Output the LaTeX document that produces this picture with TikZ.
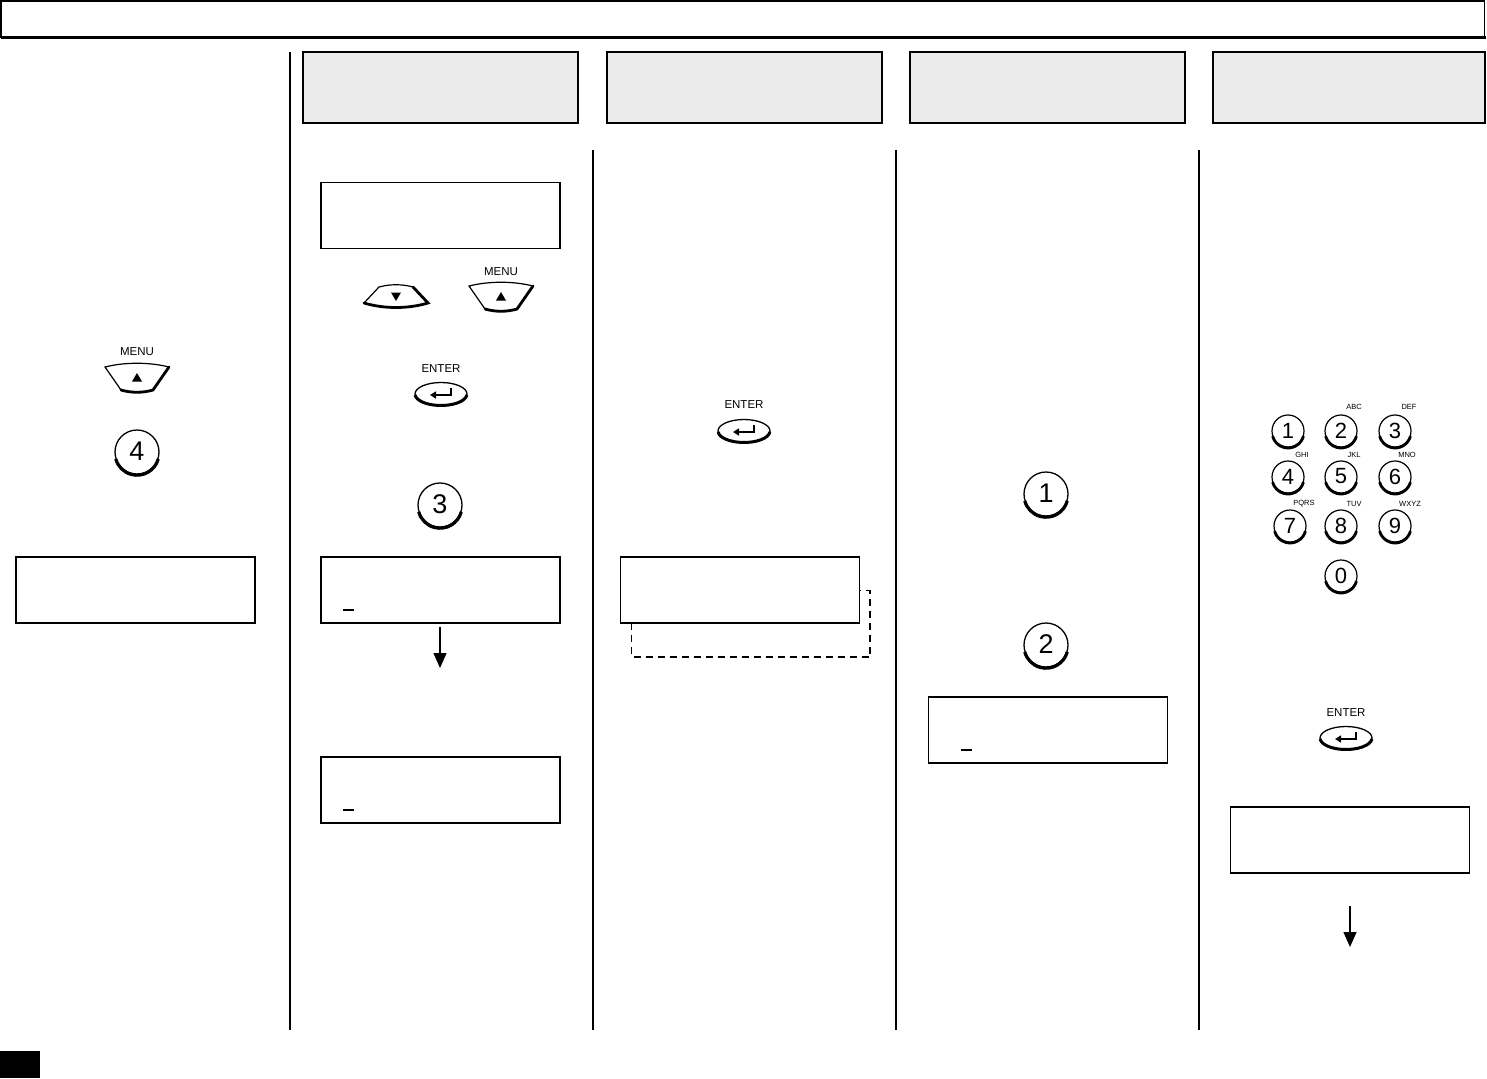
\documentclass[tikz,border=0pt]{standalone}
\usepackage{fontspec}
\setmainfont{Liberation Sans}
\usetikzlibrary{arrows.meta,shapes.geometric}
\definecolor{hdr}{RGB}{235,235,235}
\tikzset{
  lcd/.style={draw,line width=1.4pt,fill=white,minimum width=239pt,minimum height=66pt,inner sep=0pt,outer sep=0pt},
  hdrbox/.style={draw,line width=1.4pt,fill=hdr,inner sep=0pt,outer sep=0pt},
  divider/.style={line width=1.5pt},
  flow/.style={line width=1.3pt,-{Triangle[length=15pt,width=13pt]}},
  cursor/.style={line width=1.3pt},
  keylbl/.style={font=\fontsize{11.5}{12}\selectfont,inner sep=0pt},
  letlbl/.style={font=\fontsize{7.5}{8}\selectfont,inner sep=0pt},
  upbtn/.pic={
    \draw[line width=1.2pt,fill=white] (-32,-11) .. controls (-12,-16) and (12,-16) .. (32,-11) -- (16,12) .. controls (6,15) and (-6,15) .. (-16,12) -- cycle;
    \draw[line width=2.8pt,line cap=round] (32,-11) -- (16,12) .. controls (6,15) and (-6,15) .. (-16,12);
    \fill (-5,3.5) -- (5,3.5) -- (0,-5) -- cycle;
  },
  downbtn/.pic={
    \draw[line width=1.2pt,fill=white] (-17,-9) .. controls (-6,-12) and (6,-12) .. (17,-9) -- (32,7) .. controls (12,13) and (-12,13) .. (-32,7) -- cycle;
    \draw[line width=2.8pt,line cap=round] (17,-9) -- (32,7) .. controls (12,13) and (-12,13) .. (-32,7);
    \fill (-5,-3.5) -- (5,-3.5) -- (0,5) -- cycle;
  },
  enterbtn/.pic={
    \draw[line width=1.3pt,fill=white] (0,0) ellipse [x radius=26,y radius=11.5];
    \draw[line width=3pt] (5:26 and 11.5) arc[start angle=5,end angle=175,x radius=26,y radius=11.5];
    \draw[line width=1.8pt,-{Triangle[length=6pt,width=7pt]}] (10,-6) -- (10,1) -- (-11,1);
  },
  bignum/.pic={
    \draw[line width=1.3pt,fill=white] (0,0) circle (22);
    \draw[line width=3.2pt] ([yshift=-1.2pt]15:22) arc[start angle=15,end angle=165,radius=22];
    \node[font=\fontsize{27}{27}\selectfont,inner sep=0pt] (-d) at (0,-1) {#1};
  },
  smallnum/.pic={
    \draw[line width=1.2pt,fill=white] (0,0) circle (16);
    \draw[line width=2.8pt] ([yshift=-1pt]15:16) arc[start angle=15,end angle=165,radius=16];
    \node[font=\fontsize{22}{22}\selectfont,inner sep=0pt] (-d) at (0,-0.5) {#1};
  },
}
\begin{document}
\begin{tikzpicture}[x=1pt,y=-1pt]
\useasboundingbox (0,0) rectangle (1487,1078);
% top bar
\draw[line width=1.5pt] (1,1) rectangle (1484.5,37);
\draw[line width=3pt] (0.5,37.5) -- (1485.5,37.5);
% bottom black tab
\fill (0,1051) rectangle (40,1078);
% column dividers
\draw[divider] (290,52) -- (290,1030);
\draw[divider] (593,150) -- (593,1030);
\draw[divider] (896,150) -- (896,1030);
\draw[divider] (1199,150) -- (1199,1030);
% header boxes
\draw[hdrbox] (303,52) rectangle (578,123);
\draw[hdrbox] (607,52) rectangle (882,123);
\draw[hdrbox] (910,52) rectangle (1185,123);
\draw[hdrbox] (1213,52) rectangle (1485,123);

% ---- column 1
\node[keylbl] (m1l) at (137,352) {MENU};
\pic (m1) at (137,378) {upbtn};
\pic (n4) at (137,452) {bignum=4};
\node[lcd] (d1) at (135.5,590) {};

% ---- column 2
\node[lcd] (d2) at (440.5,215.5) {};
\pic (dn2) at (396,296) {downbtn};
\node[keylbl] (m2l) at (501,272) {MENU};
\pic (m2) at (501,297) {upbtn};
\node[keylbl] (e2l) at (441,369) {ENTER};
\pic (e2) at (441,394) {enterbtn};
\pic (n3) at (440,505) {bignum=3};
\node[lcd] (d3) at (440.5,590) {};
\draw[cursor] (343,610) -- (354,610);
\node[lcd] (d4) at (440.5,790) {};
\draw[cursor] (343,810) -- (354,810);
\coordinate (a1e) at (440,668);
\draw[flow] (d3.south -| a1e) ++(0,4) -- (a1e);

% ---- column 3
\node[keylbl] (e3l) at (744,405) {ENTER};
\pic (e3) at (744,431) {enterbtn};
\draw[line width=1.3pt,dash pattern=on 7pt off 5pt] (631.5,623) -- (631.5,657) -- (870,657) -- (870,590.5) -- (859,590.5);
\node[lcd] (d5) at (740,590) {};

% ---- column 4
\pic (n1) at (1046,494) {bignum=1};
\pic (n2) at (1046,645) {bignum=2};
\node[lcd] (d6) at (1048,730) {};
\draw[cursor] (961,750) -- (972,750);

% ---- column 5 keypad
\pic (k1) at (1288,431) {smallnum=1};
\pic (k2) at (1341,431) {smallnum=2};
\pic (k3) at (1395,431) {smallnum=3};
\pic (k4) at (1288,477) {smallnum=4};
\pic (k5) at (1341,477) {smallnum=5};
\pic (k6) at (1395,477) {smallnum=6};
\pic (k7) at (1290,526) {smallnum=7};
\pic (k8) at (1341,526) {smallnum=8};
\pic (k9) at (1395,526) {smallnum=9};
\pic (k0) at (1341,576) {smallnum=0};
\node[letlbl] (abc) at (1354,407) {ABC};
\node[letlbl] (def) at (1409,407) {DEF};
\node[letlbl] (ghi) at (1302,455) {GHI};
\node[letlbl] (jkl) at (1354,455) {JKL};
\node[letlbl] (mno) at (1407,455) {MNO};
\node[letlbl] (pqrs) at (1304,504) {PQRS};
\node[letlbl] (tuv) at (1354,504) {TUV};
\node[letlbl] (wxyz) at (1410,504) {WXYZ};
\node[keylbl] (e5l) at (1346,713) {ENTER};
\pic (e5) at (1346,738) {enterbtn};
\node[lcd] (d7) at (1350,840) {};
\coordinate (a2s) at (1350,906);
\coordinate (a2e) at (1350,947);
\draw[flow] (a2s) -- (a2e);
\end{tikzpicture}
\end{document}
